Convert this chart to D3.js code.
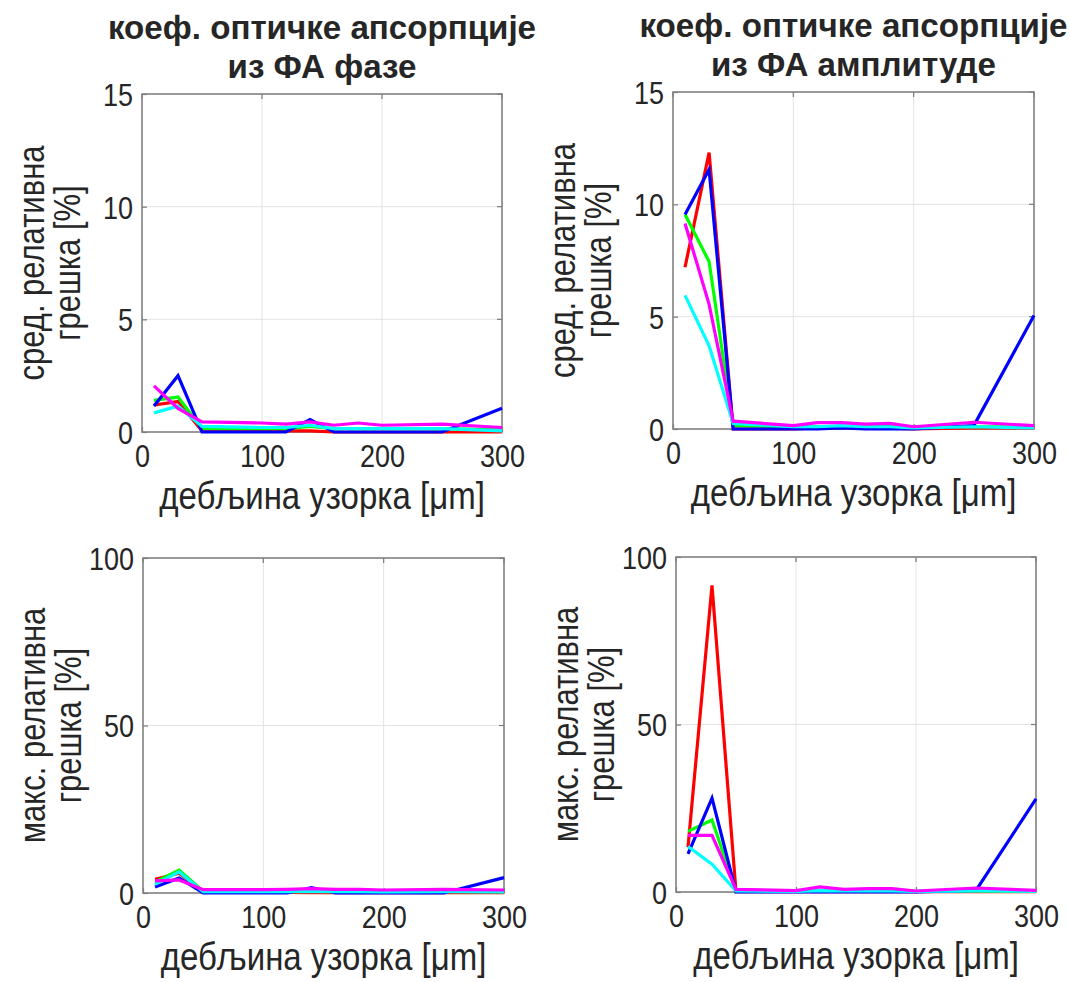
<!DOCTYPE html>
<html><head><meta charset="utf-8">
<script src="https://cdn.jsdelivr.net/npm/d3@7"></script>
<style>
html,body{margin:0;padding:0;background:#fff;}
svg{display:block;}
text{font-family:"Liberation Sans",Arial,sans-serif;fill:#262626;}
</style></head>
<body>
<svg id="chart" width="1070" height="982"></svg>
<script>
// ---- data ----
const thickness = [10, 30, 50, 100, 120, 140, 160, 180, 200, 250, 300];
const seriesColors = ["#ff0000", "#00ff00", "#0000ff", "#00ffff", "#ff00ff"];

// mean relative error, phase
const meanPhaseRed     = [1.2, 1.35, 0.05, 0.05, 0.05, 0.05, 0.0, 0.0, 0.0, 0.0, 0.0];
const meanPhaseGreen   = [1.4, 1.55, 0.15, 0.15, 0.15, 0.25, 0.15, 0.15, 0.15, 0.15, 0.1];
const meanPhaseBlue    = [1.15, 2.5, 0.0, 0.0, 0.0, 0.55, 0.0, 0.0, 0.0, 0.0, 1.05];
const meanPhaseCyan    = [0.85, 1.15, 0.25, 0.2, 0.2, 0.3, 0.15, 0.15, 0.15, 0.15, 0.05];
const meanPhaseMagenta = [2.05, 1.05, 0.45, 0.4, 0.35, 0.45, 0.3, 0.4, 0.3, 0.35, 0.2];

// mean relative error, amplitude
const meanAmpRed     = [7.2, 12.3, 0.0, 0.0, 0.05, 0.05, 0.05, 0.05, 0.0, 0.05, 0.05];
const meanAmpGreen   = [9.55, 7.45, 0.15, 0.1, 0.1, 0.1, 0.1, 0.15, 0.1, 0.1, 0.1];
const meanAmpBlue    = [9.55, 11.55, 0.0, 0.0, 0.0, 0.05, 0.0, 0.0, 0.0, 0.15, 5.05];
const meanAmpCyan    = [5.95, 3.7, 0.25, 0.1, 0.1, 0.15, 0.1, 0.1, 0.05, 0.1, 0.05];
const meanAmpMagenta = [9.15, 5.55, 0.35, 0.15, 0.28, 0.28, 0.22, 0.25, 0.1, 0.3, 0.15];

// max relative error, phase
const maxPhaseRed     = [4.1, 5.9, 0.3, 0.3, 0.2, 0.1, 0.1, 0.1, 0.1, 0.1, 0.1];
const maxPhaseGreen   = [3.3, 6.8, 0.5, 0.5, 0.5, 0.8, 0.5, 0.5, 0.5, 0.5, 0.4];
const maxPhaseBlue    = [1.8, 4.5, 0.0, 0.0, 0.0, 1.6, 0.0, 0.0, 0.0, 0.0, 4.6];
const maxPhaseCyan    = [2.6, 6.3, 0.4, 0.4, 0.4, 0.5, 0.4, 0.4, 0.3, 0.4, 0.3];
const maxPhaseMagenta = [3.6, 3.9, 1.0, 1.0, 1.1, 1.3, 1.1, 1.1, 0.9, 1.1, 0.9];

// max relative error, amplitude
const maxAmpRed     = [13.4, 91.5, 0.1, 0.1, 0.2, 0.1, 0.1, 0.1, 0.1, 0.1, 0.1];
const maxAmpGreen   = [18.1, 21.5, 0.3, 0.2, 0.3, 0.3, 0.3, 0.3, 0.2, 0.3, 0.2];
const maxAmpBlue    = [11.4, 28.0, 0.0, 0.0, 0.0, 0.0, 0.0, 0.0, 0.0, 0.5, 27.8];
const maxAmpCyan    = [13.6, 8.3, 0.3, 0.2, 0.4, 0.3, 0.3, 0.3, 0.2, 0.3, 0.2];
const maxAmpMagenta = [16.9, 16.9, 0.8, 0.4, 1.5, 0.8, 1.0, 1.0, 0.3, 1.2, 0.5];

const xTicks = [0, 100, 200, 300];
const yTicksMean = [0, 5, 10, 15];
const yTicksMax = [0, 50, 100];
const titlePhase = ["коеф. оптичке апсорпције", "из ФА фазе"];
const titleAmp = ["коеф. оптичке апсорпције", "из ФА амплитуде"];
const xLabel = "дебљина узорка [μm]";
const yLabelMean = ["сред. релативна", "грешка [%]"];
const yLabelMax = ["макс. релативна", "грешка [%]"];

// ---- panels ----
const panels = [
  {box:{l:142,r:502,t:94,b:432}, ymax:15, yTicks:yTicksMean, title:titlePhase, ylab:yLabelMean,
   series:[meanPhaseRed, meanPhaseGreen, meanPhaseBlue, meanPhaseCyan, meanPhaseMagenta]},
  {box:{l:673,r:1034,t:92,b:429}, ymax:15, yTicks:yTicksMean, title:titleAmp, ylab:yLabelMean,
   series:[meanAmpRed, meanAmpGreen, meanAmpBlue, meanAmpCyan, meanAmpMagenta]},
  {box:{l:143,r:504,t:558,b:893}, ymax:100, yTicks:yTicksMax, title:null, ylab:yLabelMax,
   series:[maxPhaseRed, maxPhaseGreen, maxPhaseBlue, maxPhaseCyan, maxPhaseMagenta]},
  {box:{l:676,r:1036,t:557,b:892}, ymax:100, yTicks:yTicksMax, title:null, ylab:yLabelMax,
   series:[maxAmpRed, maxAmpGreen, maxAmpBlue, maxAmpCyan, maxAmpMagenta]}
];

const SY = 1.18; // vertical stretch of glyphs seen in the reference
const svg = d3.select("#chart");

panels.forEach(p => {
  const B = p.box;
  const x = d3.scaleLinear().domain([0, 300]).range([B.l, B.r]);
  const y = d3.scaleLinear().domain([0, p.ymax]).range([B.b, B.t]);
  const g = svg.append("g");

  // grid
  g.append("g").selectAll("line").data(xTicks.filter(t => t > 0 && t < 300)).join("line")
    .attr("x1", d => x(d)).attr("x2", d => x(d)).attr("y1", B.t).attr("y2", B.b)
    .attr("stroke", "#e3e3e3").attr("stroke-width", 1);
  g.append("g").selectAll("line").data(p.yTicks.filter(t => t > 0 && t < p.ymax)).join("line")
    .attr("x1", B.l).attr("x2", B.r).attr("y1", d => y(d)).attr("y2", d => y(d))
    .attr("stroke", "#e3e3e3").attr("stroke-width", 1);

  // axes via d3
  const xAxis = d3.axisBottom(x).tickValues(xTicks).tickSizeInner(-5).tickSizeOuter(0).tickPadding(10);
  const yAxis = d3.axisLeft(y).tickValues(p.yTicks).tickSizeInner(-5).tickSizeOuter(0).tickPadding(9);
  const gx = g.append("g").attr("transform", `translate(0,${B.b})`).call(xAxis);
  const gy = g.append("g").attr("transform", `translate(${B.l},0)`).call(yAxis);
  [gx, gy].forEach(a => {
    a.select(".domain").remove();
    a.selectAll(".tick line").attr("stroke", "#7a7a7a").attr("stroke-width", 1.2);
    a.selectAll(".tick text").attr("font-size", 27).attr("fill", "#262626")
      .style("font-family", "'Liberation Sans', Arial, sans-serif");
  });
  gx.selectAll(".tick text").attr("dy", 0).attr("y", 35 / SY).attr("transform", `scale(1,${SY})`);
  gy.selectAll(".tick text").attr("dy", "0.36em").attr("transform", `scale(1,${SY})`);
  // top/right ticks
  g.append("g").selectAll("line").data(xTicks).join("line")
    .attr("x1", d => x(d)).attr("x2", d => x(d)).attr("y1", B.t).attr("y2", B.t + 5)
    .attr("stroke", "#7a7a7a").attr("stroke-width", 1.2);
  g.append("g").selectAll("line").data(p.yTicks).join("line")
    .attr("x1", B.r).attr("x2", B.r - 5).attr("y1", d => y(d)).attr("y2", d => y(d))
    .attr("stroke", "#7a7a7a").attr("stroke-width", 1.2);

  // box
  g.append("rect").attr("x", B.l).attr("y", B.t).attr("width", B.r - B.l).attr("height", B.b - B.t)
    .attr("fill", "none").attr("stroke", "#808080").attr("stroke-width", 1.6);

  // lines
  const line = d3.line().x((d, i) => x(thickness[i])).y(d => y(d));
  p.series.forEach((s, k) => {
    g.append("path").datum(s).attr("d", line).attr("fill", "none")
      .attr("stroke", seriesColors[k]).attr("stroke-width", 3.2).attr("stroke-linejoin", "miter");
  });

  const cx = (B.l + B.r) / 2, cy = (B.t + B.b) / 2;
  // x label
  g.append("text").attr("transform", `translate(${cx},${B.b + 77}) scale(1,${SY})`)
    .attr("text-anchor", "middle").attr("font-size", 33).text(xLabel);
  // y label
  p.ylab.forEach((t, i) => {
    const bx = B.l - 98 + i * 36;
    g.append("text").attr("transform", `translate(${bx},${cy}) rotate(-90) scale(1,${SY})`)
      .attr("text-anchor", "middle").attr("font-size", 31).text(t);
  });
  // title
  if (p.title) {
    p.title.forEach((t, i) => {
      g.append("text").attr("transform", `translate(${cx},${B.t - 55 + i * 39}) scale(1.035,1.05)`)
        .attr("text-anchor", "middle")
        .attr("font-size", 32).attr("font-weight", "bold").attr("fill", "#000").text(t);
    });
  }
});
</script>
</body></html>
